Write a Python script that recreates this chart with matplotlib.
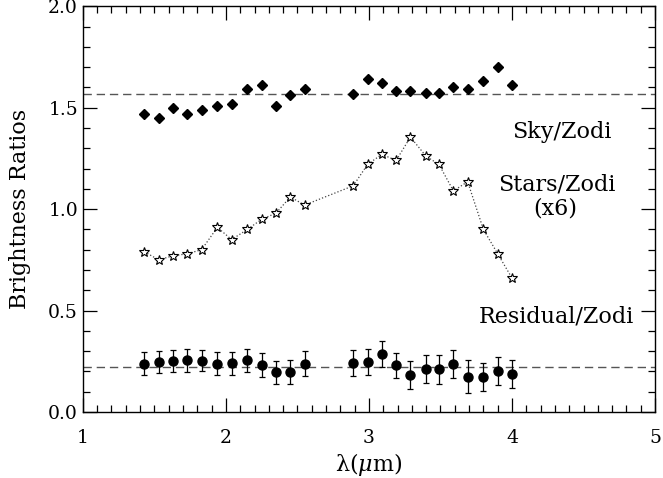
import numpy as np
import matplotlib
matplotlib.use("Agg")
import matplotlib.pyplot as plt
from matplotlib.ticker import MultipleLocator

# wavelengths (micron)
wave = [1.43, 1.53, 1.63, 1.73, 1.83, 1.94, 2.04, 2.15, 2.25, 2.35, 2.45, 2.55,
        2.89, 2.99, 3.09, 3.19, 3.29, 3.40, 3.49, 3.59, 3.69, 3.80, 3.90, 4.00]

sky_zodi = [1.47, 1.45, 1.50, 1.47, 1.49, 1.51, 1.52, 1.59, 1.61, 1.51, 1.56, 1.59,
            1.565, 1.64, 1.62, 1.58, 1.58, 1.57, 1.57, 1.60, 1.59, 1.63, 1.70, 1.61]

stars_zodi = [0.79, 0.75, 0.77, 0.78, 0.80, 0.91, 0.85, 0.90, 0.95, 0.98, 1.06, 1.02,
              1.115, 1.22, 1.27, 1.24, 1.355, 1.26, 1.22, 1.09, 1.135, 0.90, 0.78, 0.66]

resid_zodi = [0.238, 0.246, 0.250, 0.255, 0.253, 0.238, 0.240, 0.256, 0.232, 0.196, 0.197, 0.238,
              0.243, 0.248, 0.286, 0.230, 0.182, 0.210, 0.210, 0.236, 0.174, 0.174, 0.202, 0.187]
resid_err = [0.056, 0.053, 0.055, 0.056, 0.053, 0.056, 0.056, 0.057, 0.058, 0.057, 0.060, 0.061,
             0.065, 0.065, 0.062, 0.062, 0.068, 0.069, 0.070, 0.068, 0.082, 0.068, 0.069, 0.068]

sky_mean = 1.565
resid_mean = 0.223

plt.rcParams["font.family"] = ["DejaVu Serif"]
plt.rcParams["mathtext.fontset"] = "dejavuserif"

fig = plt.figure(figsize=(6.63, 4.78), dpi=100)
ax = fig.add_axes([0.125, 0.138, 0.863, 0.849])

# dashed reference levels
ax.axhline(sky_mean, color="#555555", ls=(0, (6, 3.5)), lw=1.0)
ax.axhline(resid_mean, color="#555555", ls=(0, (6, 3.5)), lw=1.0)

# sky / zodi
ax.plot(wave, sky_zodi, ls="none", marker="D", ms=5.5, color="black")

# stars / zodi (x6)
ax.plot(wave, stars_zodi, ls=":", lw=0.9, color="#444444",
        marker="*", ms=7.5, mfc="white", mec="black", mew=0.8)

# residual / zodi
ax.errorbar(wave, resid_zodi, yerr=resid_err, fmt="o", ms=6.5, color="black",
            ecolor="black", elinewidth=0.9, capsize=2.5, capthick=0.9)

ax.text(4.35, 1.38, "Sky/Zodi", ha="center", va="center", fontsize=16)
ax.text(4.31, 1.12, "Stars/Zodi", ha="center", va="center", fontsize=16)
ax.text(4.30, 1.005, "(x6)", ha="center", va="center", fontsize=16)
ax.text(4.31, 0.47, "Residual/Zodi", ha="center", va="center", fontsize=16)

ax.set_xlim(1, 5)
ax.set_ylim(0, 2.0)
ax.xaxis.set_major_locator(MultipleLocator(1))
ax.xaxis.set_minor_locator(MultipleLocator(0.1))
ax.yaxis.set_major_locator(MultipleLocator(0.5))
ax.yaxis.set_minor_locator(MultipleLocator(0.1))
ax.yaxis.set_major_formatter(matplotlib.ticker.FormatStrFormatter("%.1f"))
ax.tick_params(which="both", direction="in", top=True, right=True, labelsize=13.5)
ax.tick_params(which="major", length=10, width=0.9)
ax.tick_params(which="minor", length=5, width=0.9)
ax.tick_params(axis="x", pad=12)
for s in ax.spines.values():
    s.set_linewidth(1.0)

ax.set_xlabel(r"$\mathrm{\lambda}(\mu$m$)$", fontsize=16, labelpad=3)
ax.set_ylabel("Brightness Ratios", fontsize=16, labelpad=12)

fig.savefig("out.png", dpi=100)
